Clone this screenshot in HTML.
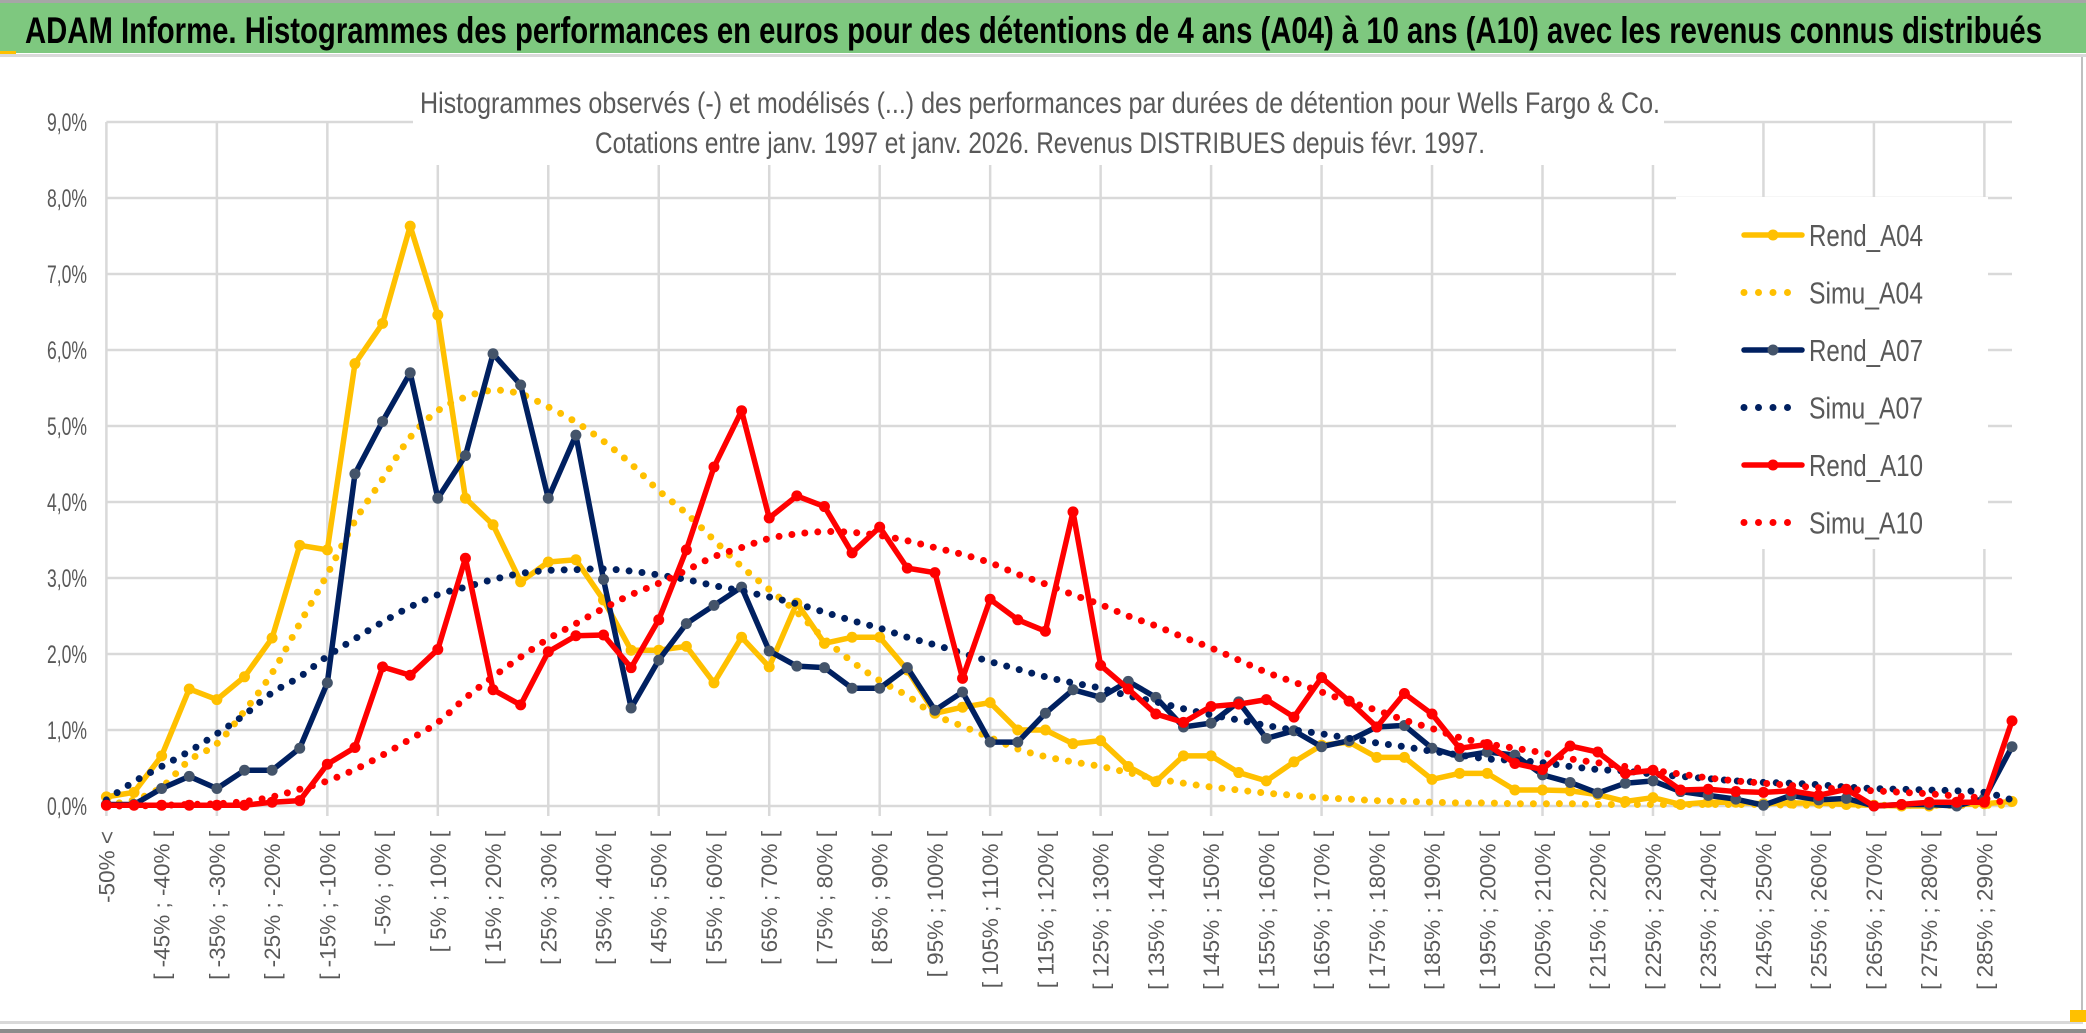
<!DOCTYPE html>
<html><head><meta charset="utf-8">
<style>
html,body{margin:0;padding:0;background:#fff;}
svg{display:block;font-family:"Liberation Sans",sans-serif;}
</style></head>
<body>
<svg id="chart" width="2086" height="1033" viewBox="0 0 2086 1033" xmlns="http://www.w3.org/2000/svg">
  <rect x="0" y="0" width="2086" height="1033" fill="#ffffff"/>
  <rect x="0" y="0" width="2086" height="3" fill="#a6a6a6"/>
  <rect x="0" y="3" width="2086" height="50" fill="#7ec87f"/>
  <text x="25" y="43" font-size="37" font-weight="bold" fill="#000" textLength="2017" lengthAdjust="spacingAndGlyphs">ADAM Informe. Histogrammes des performances en euros pour des détentions de 4 ans (A04) à 10 ans (A10) avec les revenus connus distribués</text>
  <rect x="0" y="54" width="2086" height="3" fill="#d9d9d9"/>
  <rect x="0" y="51" width="16" height="3" fill="#ffc000"/>
  <rect x="2081" y="57" width="2" height="966" fill="#bfbfbf"/>
  <rect x="0" y="1021" width="2083" height="3" fill="#d9d9d9"/>
  <rect x="0" y="1029" width="2086" height="4" fill="#8c8c8c"/>
  <rect x="2070" y="1010" width="16" height="12" fill="#ffc000"/>
  <g id="grid"></g>
  <g id="yaxis"></g>
  <g id="xaxis"></g>
  <rect x="413" y="62" width="1251" height="103" fill="#ffffff"/>
  <text x="1040" y="113" font-size="30" fill="#595959" text-anchor="middle" textLength="1240" lengthAdjust="spacingAndGlyphs">Histogrammes observés (-) et modélisés (...) des performances par durées de détention pour Wells Fargo &amp; Co.</text>
  <text x="1040" y="153" font-size="30" fill="#595959" text-anchor="middle" textLength="890" lengthAdjust="spacingAndGlyphs">Cotations entre janv. 1997 et janv. 2026. Revenus DISTRIBUES depuis févr. 1997.</text>
  <g id="series"></g>
  <rect x="1676" y="197" width="312" height="352" fill="#ffffff"/>
  <g id="legend"></g>
</svg>
<script>
const rendA04 = [0.12,0.18,0.66,1.54,1.4,1.7,2.21,3.43,3.37,5.82,6.35,7.63,6.46,4.05,3.7,2.95,3.21,3.24,2.71,2.05,2.05,2.1,1.62,2.22,1.83,2.67,2.14,2.22,2.22,1.79,1.22,1.3,1.36,1.0,1.0,0.82,0.86,0.52,0.32,0.66,0.66,0.44,0.33,0.58,0.8,0.84,0.64,0.64,0.35,0.43,0.43,0.21,0.21,0.2,0.15,0.06,0.11,0.02,0.05,0.05,0.03,0.04,0.04,0.02,0.01,0,0,0.02,0.03,0.06];
const simuA04 = [0.02,0.08,0.25,0.6,0.82,1.25,1.75,2.4,3.05,3.75,4.3,4.85,5.2,5.38,5.47,5.42,5.25,5.05,4.8,4.5,4.15,3.85,3.5,3.15,2.85,2.55,2.2,1.9,1.65,1.45,1.2,1.05,0.9,0.75,0.65,0.58,0.52,0.44,0.36,0.3,0.25,0.21,0.17,0.14,0.11,0.09,0.07,0.06,0.05,0.04,0.04,0.03,0.03,0.03,0.02,0.02,0.02,0.02,0.02,0.02,0.02,0.01,0.01,0.01,0.01,0.01,0.01,0.01,0.01,0.01];
const rendA07 = [0.02,0.02,0.23,0.39,0.23,0.47,0.47,0.76,1.62,4.37,5.06,5.7,4.05,4.61,5.95,5.54,4.05,4.88,2.98,1.29,1.92,2.4,2.64,2.88,2.04,1.84,1.82,1.55,1.55,1.82,1.26,1.5,0.84,0.84,1.22,1.53,1.43,1.64,1.43,1.04,1.09,1.37,0.89,0.99,0.78,0.86,1.04,1.06,0.76,0.65,0.71,0.67,0.41,0.31,0.17,0.3,0.33,0.19,0.14,0.09,0.01,0.14,0.08,0.1,0,0.02,0.02,0,0.1,0.78];
const simuA07 = [0.08,0.32,0.52,0.72,0.95,1.2,1.49,1.7,1.97,2.2,2.42,2.62,2.78,2.88,2.98,3.06,3.1,3.11,3.12,3.09,3.04,2.98,2.9,2.83,2.75,2.66,2.55,2.44,2.34,2.22,2.12,2.01,1.9,1.8,1.7,1.62,1.55,1.45,1.37,1.28,1.2,1.13,1.06,1.0,0.95,0.89,0.83,0.78,0.72,0.67,0.62,0.6,0.57,0.52,0.48,0.46,0.42,0.39,0.36,0.33,0.31,0.3,0.28,0.25,0.23,0.22,0.21,0.2,0.18,0.08];
const rendA10 = [0.01,0.01,0.01,0.01,0.01,0.01,0.05,0.07,0.55,0.77,1.83,1.72,2.06,3.26,1.53,1.33,2.03,2.24,2.25,1.82,2.45,3.37,4.46,5.2,3.79,4.08,3.94,3.33,3.67,3.13,3.07,1.68,2.72,2.45,2.3,3.87,1.85,1.54,1.21,1.1,1.31,1.34,1.4,1.17,1.69,1.38,1.04,1.48,1.21,0.76,0.81,0.56,0.48,0.79,0.71,0.43,0.47,0.21,0.22,0.19,0.18,0.2,0.14,0.22,0,0.02,0.05,0.05,0.05,1.12];
const simuA10 = [0,0,0.01,0.02,0.03,0.06,0.12,0.22,0.33,0.48,0.67,0.88,1.1,1.42,1.7,1.96,2.2,2.4,2.6,2.78,2.93,3.1,3.28,3.4,3.52,3.58,3.61,3.6,3.56,3.49,3.4,3.31,3.2,3.05,2.92,2.78,2.65,2.5,2.37,2.22,2.08,1.92,1.76,1.63,1.5,1.37,1.26,1.13,1.02,0.9,0.82,0.76,0.7,0.62,0.57,0.52,0.47,0.42,0.37,0.33,0.3,0.27,0.24,0.22,0.2,0.18,0.16,0.13,0.1,0.02];
const yTicks = [0,1,2,3,4,5,6,7,8,9];
const yTickLabels = ["0,0%","1,0%","2,0%","3,0%","4,0%","5,0%","6,0%","7,0%","8,0%","9,0%"];
const nCats = 70;
const catLabels = [];
for (let i = 0; i < nCats; i++) {
  if (i === 0) catLabels.push("-50% <");
  else if (i % 2 === 0) { const a = -45 + (i - 2) * 5; catLabels.push("[ " + a + "% ; " + (a + 5) + "% ["); }
  else catLabels.push("");
}

const NS = "http://www.w3.org/2000/svg";
const X0 = 106.4, X1 = 2012, Y0 = 806, YTOP = 122;
function xs(i){ return X0 + i * (X1 - X0) / (nCats - 1); }
function ys(v){ return Y0 - v * (Y0 - YTOP) / 9; }
function mk(tag, attrs, parent){ const e = document.createElementNS(NS, tag); for (const k in attrs) e.setAttribute(k, attrs[k]); parent.appendChild(e); return e; }

const grid = document.getElementById('grid');
yTicks.forEach(t => {
  const l = mk('line', {x1: X0, x2: X1, y1: ys(t), y2: ys(t), stroke: '#d9d9d9', 'stroke-width': 2.5}, grid);
  
  
});
for (let i = 0; i < nCats; i += 4) {
  const l = mk('line', {x1: xs(i), x2: xs(i), y1: ys(9), y2: Y0 + 10, stroke: '#d9d9d9', 'stroke-width': 2.5}, grid);
  
  
}

const yaxis = document.getElementById('yaxis');
yTicks.forEach((t, k) => {
  const tx = mk('text', {x: 87, y: ys(t) + 9, 'font-size': 25, fill: '#595959', 'text-anchor': 'end', textLength: 40, lengthAdjust: 'spacingAndGlyphs'}, yaxis);
  tx.textContent = yTickLabels[k];
  
  
});

const xaxis = document.getElementById('xaxis');
catLabels.forEach((lab, i) => {
  if (!lab) return;
  const x = xs(i) + 8, y = 831;
  const tx = mk('text', {x: x, y: y, 'font-size': 22.5, fill: '#595959', 'text-anchor': 'end', transform: 'rotate(-90 ' + x + ' ' + y + ')'}, xaxis);
  tx.textContent = lab;
  
  
});

function smoothPath(vals){
  const p = vals.map((v, i) => [xs(i), ys(v)]);
  let d = 'M' + p[0][0] + ',' + p[0][1];
  for (let i = 0; i < p.length - 1; i++) {
    const a = p[Math.max(i - 1, 0)], b = p[i], c = p[i + 1], e = p[Math.min(i + 2, p.length - 1)];
    const c1 = [b[0] + (c[0] - a[0]) / 6, b[1] + (c[1] - a[1]) / 6];
    const c2 = [c[0] - (e[0] - b[0]) / 6, c[1] - (e[1] - b[1]) / 6];
    d += ' C' + c1[0] + ',' + c1[1] + ' ' + c2[0] + ',' + c2[1] + ' ' + c[0] + ',' + c[1];
  }
  return d;
}
const series = document.getElementById('series');
function drawRend(vals, color, mcolor, name){
  const g = mk('g', {}, series);
  
  
  const pts = vals.map((v, i) => xs(i) + ',' + ys(v)).join(' ');
  const pl = mk('polyline', {points: pts, fill: 'none', stroke: color, 'stroke-width': 5.5, 'stroke-linejoin': 'round'}, g);
  
  
  vals.forEach((v, i) => {
    const c = mk('circle', {cx: xs(i), cy: ys(v), r: 5.5, fill: mcolor}, g);
    
    
  });
}
function drawSimu(vals, color, name){
  const p = mk('path', {d: smoothPath(vals), fill: 'none', stroke: color, 'stroke-width': 7, 'stroke-linecap': 'round', 'stroke-dasharray': '0 13'}, series);
  
  
}
drawRend(rendA04, '#ffc000', '#ffc000', 'rend-a04');
drawSimu(simuA04, '#ffc000', 'simu-a04');
drawRend(rendA07, '#002060', '#44546a', 'rend-a07');
drawSimu(simuA07, '#002060', 'simu-a07');
drawRend(rendA10, '#ff0000', '#ff0000', 'rend-a10');
drawSimu(simuA10, '#ff0000', 'simu-a10');

const legend = document.getElementById('legend');
const legItems = [
  ['Rend_A04', '#ffc000', '#ffc000', false],
  ['Simu_A04', '#ffc000', null, true],
  ['Rend_A07', '#002060', '#44546a', false],
  ['Simu_A07', '#002060', null, true],
  ['Rend_A10', '#ff0000', '#ff0000', false],
  ['Simu_A10', '#ff0000', null, true]
];
legItems.forEach((it, k) => {
  const y = 235 + k * 57.5;
  const g = mk('g', {}, legend);
  
  
  if (it[3]) {
    const l = mk('line', {x1: 1744, x2: 1802, y1: y, y2: y, stroke: it[1], 'stroke-width': 7, 'stroke-linecap': 'round', 'stroke-dasharray': '0 14.5'}, g);
    
    
  } else {
    const l = mk('line', {x1: 1744, x2: 1802, y1: y, y2: y, stroke: it[1], 'stroke-width': 5.5, 'stroke-linecap': 'round'}, g);
    
    
    const c = mk('circle', {cx: 1773, cy: y, r: 5.5, fill: it[2]}, g);
    
    
  }
  const t = mk('text', {x: 1809, y: y + 11, 'font-size': 31, fill: '#595959', textLength: 114, lengthAdjust: 'spacingAndGlyphs'}, g);
  t.textContent = it[0];
  
  
});
</script>
</body></html>
